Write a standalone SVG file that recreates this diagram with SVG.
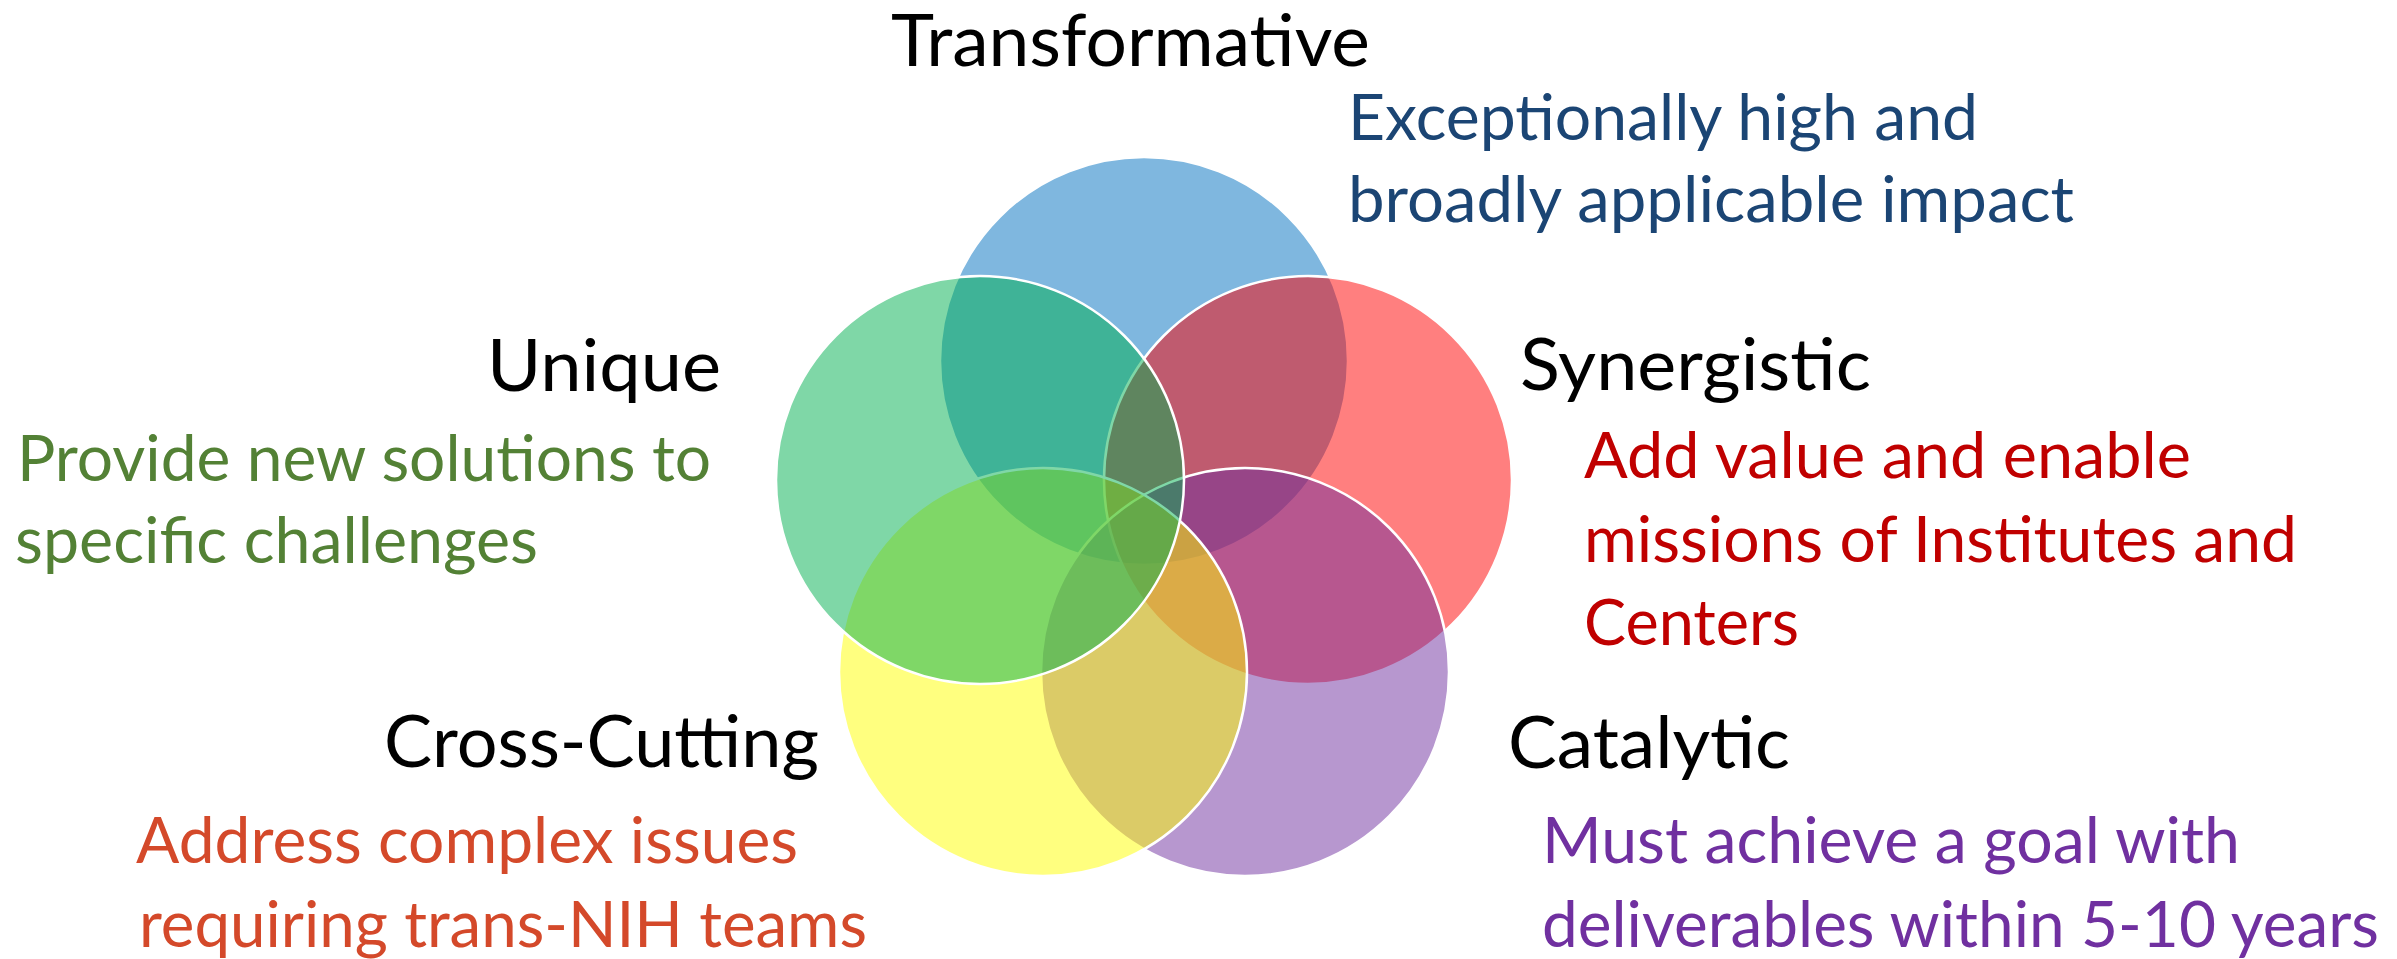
<svg xmlns="http://www.w3.org/2000/svg" width="2397" height="959" viewBox="0 0 2397 959">
<style>
.c{fill-opacity:0.5;stroke:#ffffff;stroke-width:2.5}
text{font-family:Lato,"Open Sans","Liberation Sans",sans-serif}
.t{font-size:72px;fill:#000000}
.d{font-size:64px}
</style>
<rect width="2397" height="959" fill="#ffffff"/>
<g id="circles">
<g id="transformative-circle"><circle class="c" cx="1144" cy="361" r="204" fill="#0070C0"/></g>
<g id="synergistic-circle"><circle class="c" cx="1308" cy="480" r="204" fill="#FF0000"/></g>
<g id="catalytic-circle"><circle class="c" cx="1245" cy="672" r="204" fill="#7030A0"/></g>
<g id="crosscutting-circle"><circle class="c" cx="1043" cy="672" r="204" fill="#FFFF00"/></g>
<g id="unique-circle"><circle class="c" cx="980" cy="480" r="204" fill="#00B050"/></g>
</g>
<g id="transformative">
<text class="t" x="891" y="66" textLength="479" lengthAdjust="spacingAndGlyphs">Transformative</text>
<text class="d" x="1348" y="140" fill="#1B4574" textLength="630" lengthAdjust="spacingAndGlyphs">Exceptionally high and</text>
<text class="d" x="1348" y="222" fill="#1B4574" textLength="726" lengthAdjust="spacingAndGlyphs">broadly applicable impact</text>
</g>
<g id="unique">
<text class="t" x="487" y="391" textLength="234" lengthAdjust="spacingAndGlyphs">Unique</text>
<text class="d" x="17" y="481" fill="#538135" textLength="694" lengthAdjust="spacingAndGlyphs">Provide new solutions to</text>
<text class="d" x="15" y="563" fill="#538135" textLength="523" lengthAdjust="spacingAndGlyphs">specific challenges</text>
</g>
<g id="synergistic">
<text class="t" x="1520" y="390" textLength="351" lengthAdjust="spacingAndGlyphs">Synergistic</text>
<text class="d" x="1584" y="478" fill="#C00000" textLength="607" lengthAdjust="spacingAndGlyphs">Add value and enable</text>
<text class="d" x="1584" y="562" fill="#C00000" textLength="713" lengthAdjust="spacingAndGlyphs">missions of Institutes and</text>
<text class="d" x="1584" y="645" fill="#C00000" textLength="215" lengthAdjust="spacingAndGlyphs">Centers</text>
</g>
<g id="crosscutting">
<text class="t" x="384" y="767" textLength="435" lengthAdjust="spacingAndGlyphs">Cross-Cutting</text>
<text class="d" x="136" y="863" fill="#D4492A" textLength="662" lengthAdjust="spacingAndGlyphs">Address complex issues</text>
<text class="d" x="139" y="947" fill="#D4492A" textLength="728" lengthAdjust="spacingAndGlyphs">requiring trans-NIH teams</text>
</g>
<g id="catalytic">
<text class="t" x="1508" y="768" textLength="282" lengthAdjust="spacingAndGlyphs">Catalytic</text>
<text class="d" x="1542" y="863" fill="#7030A0" textLength="698" lengthAdjust="spacingAndGlyphs">Must achieve a goal with</text>
<text class="d" x="1542" y="947" fill="#7030A0" textLength="837" lengthAdjust="spacingAndGlyphs">deliverables within 5-10 years</text>
</g>
</svg>
